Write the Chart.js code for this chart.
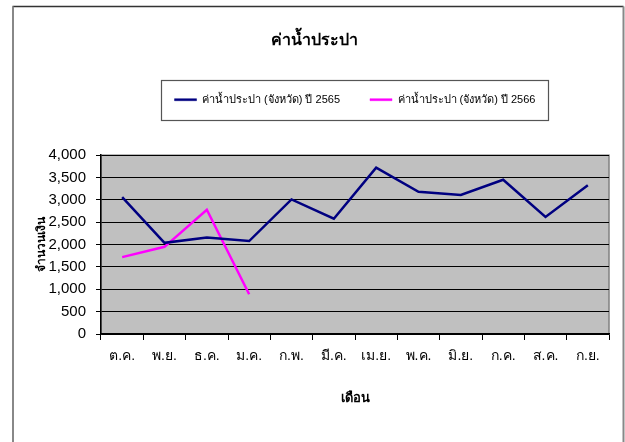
<!DOCTYPE html>
<html><head><meta charset="utf-8">
<script src="https://cdn.jsdelivr.net/npm/chart.js@4.4.1/dist/chart.umd.min.js"></script>
<style>html,body{margin:0;padding:0;background:#fff}#wrap{width:625px;height:442px}</style>
</head><body><div id="wrap"><canvas id="c" width="625" height="442"></canvas></div>
<script>
const months = ['ต.ค.','พ.ย.','ธ.ค.','ม.ค.','ก.พ.','มี.ค.','เม.ย.','พ.ค.','มิ.ย.','ก.ค.','ส.ค.','ก.ย.'];
const water2565 = [3060, 2040, 2160, 2080, 3010, 2580, 3720, 3180, 3110, 3450, 2620, 3330];
const water2566 = [1720, 1950, 2780, 890, null, null, null, null, null, null, null, null];
const seriesNames = ['ค่าน้ำประปา (จังหวัด) ปี 2565', 'ค่าน้ำประปา (จังหวัด) ปี 2566'];
const yTicks = {min: 0, max: 4000, step: 500};

const FONT = "'Liberation Sans Narrow', 'Arial Narrow', 'Liberation Sans', sans-serif";
const LEGEND_HEIGHT = 91;

const frame = {
  id: 'frame',
  beforeLayout(chart) {
    const lg = chart.legend;
    if (lg && !lg._patched) {
      const orig = lg.fit;
      lg.fit = function () { orig.call(this); this.height = LEGEND_HEIGHT; };
      lg._patched = true;
    }
  },
  beforeDraw(chart) {
    const {ctx, chartArea: a, width, height} = chart;
    ctx.save();
    ctx.fillStyle = '#fff';
    ctx.fillRect(0, 0, width, height);
    ctx.lineWidth = 1.5;
    ctx.strokeStyle = '#333';
    ctx.beginPath(); ctx.moveTo(12.5, 6.5); ctx.lineTo(623.5, 6.5); ctx.stroke();
    ctx.strokeStyle = '#888';
    ctx.lineWidth = 2;
    ctx.beginPath(); ctx.moveTo(13, 6.5); ctx.lineTo(13, height); ctx.stroke();
    ctx.beginPath(); ctx.moveTo(623.5, 6.5); ctx.lineTo(623.5, height); ctx.stroke();
    ctx.fillStyle = '#c0c0c0';
    ctx.fillRect(a.left, a.top, a.right - a.left, a.bottom - a.top);
    ctx.strokeStyle = '#808080';
    ctx.lineWidth = 1.5;
    ctx.strokeRect(a.left, a.top, a.right - a.left, a.bottom - a.top);
    const lg = chart.legend;
    if (lg && lg.legendHitBoxes && lg.legendHitBoxes.length) {
      const hb = lg.legendHitBoxes;
      const l = Math.min(...hb.map(h => h.left)) - 14;
      const r = Math.max(...hb.map(h => h.left + h.width)) + 12;
      const cy = hb[0].top + hb[0].height / 2;
      ctx.strokeStyle = '#555';
      ctx.lineWidth = 1.2;
      ctx.strokeRect(Math.round(l) + 0.5, Math.round(cy - 20) + 0.5, Math.round(r - l), 40);
    }
    ctx.restore();
  }
};

new Chart(document.getElementById('c'), {
  type: 'line',
  data: {
    labels: months,
    datasets: [
      {label: seriesNames[0], data: water2565, borderColor: '#000080', backgroundColor: '#000080', borderWidth: 2.5, pointRadius: 0, tension: 0},
      {label: seriesNames[1], data: water2566, borderColor: '#ff00ff', backgroundColor: '#ff00ff', borderWidth: 2.5, pointRadius: 0, tension: 0, spanGaps: false}
    ]
  },
  options: {
    responsive: false,
    animation: false,
    devicePixelRatio: 1,
    layout: {padding: {top: 6, left: 20, right: 16, bottom: 20}},
    plugins: {
      title: {display: true, text: 'ค่าน้ำประปา', color: '#000', font: {family: FONT, size: 16, weight: 'bold'}, padding: {top: 25, bottom: 14}},
      legend: {
        display: true,
        fullSize: false,
        labels: {
          color: '#000', font: {family: FONT, size: 11}, boxWidth: 22, boxHeight: 2, padding: 30,
          generateLabels(chart) {
            return Chart.defaults.plugins.legend.labels.generateLabels(chart).map(it => Object.assign(it, {lineWidth: 0.5}));
          }
        }
      },
      tooltip: {enabled: false}
    },
    scales: {
      x: {
        offset: true,
        grid: {offset: true, drawOnChartArea: false, drawTicks: true, tickLength: 6, color: '#000', lineWidth: 1},
        border: {display: true, color: '#000', width: 1.5},
        ticks: {color: '#000', font: {family: FONT, size: 14}, padding: 8, maxRotation: 0},
        title: {display: true, text: 'เดือน', color: '#000', font: {family: FONT, size: 13, weight: 'bold'}, padding: {top: 16, bottom: 16}},
        afterFit(s) { s.height = 88; }
      },
      y: {
        min: yTicks.min, max: yTicks.max,
        grid: {color: '#000', lineWidth: 1, tickLength: 5, drawTicks: true},
        border: {display: true, color: '#000', width: 1.5},
        ticks: {stepSize: yTicks.step, color: '#000', font: {family: FONT, size: 15}, padding: 10},
        title: {display: true, text: 'จำนวนเงิน', color: '#000', font: {family: FONT, size: 12, weight: 'bold'}, padding: {top: 14, bottom: 14}},
        afterFit(s) { s.width = 81; }
      }
    }
  },
  plugins: [frame]
});
</script></body></html>
